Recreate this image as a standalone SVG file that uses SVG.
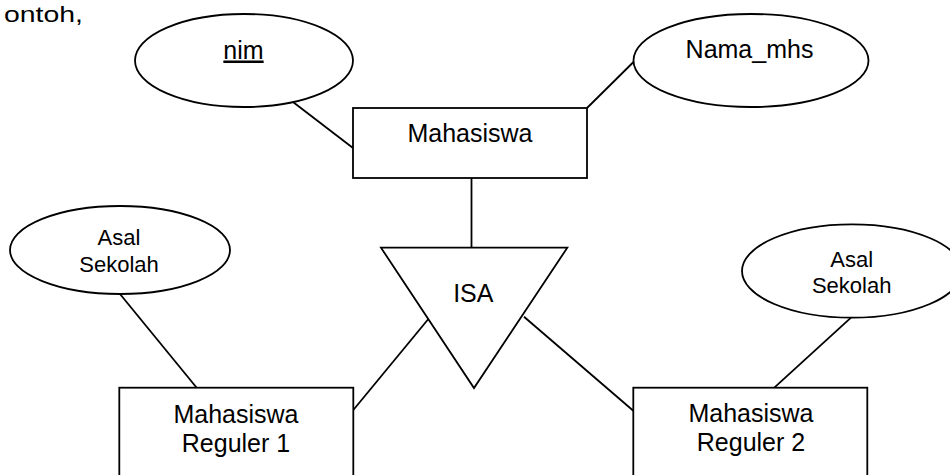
<svg xmlns="http://www.w3.org/2000/svg" width="950" height="475" viewBox="0 0 950 475">
<style>
.s{fill:#fff;stroke:#000;stroke-width:1.8}
.l{stroke:#000;stroke-width:1.8;fill:none}
text{font-family:"Liberation Sans",Arial,sans-serif;fill:#000;text-anchor:middle}
.t25{font-size:25px}
.t22{font-size:22px}
</style>
<rect x="0" y="0" width="950" height="475" fill="#fff"/>
<text x="4" y="22" style="text-anchor:start;font-size:22px" textLength="79" lengthAdjust="spacingAndGlyphs">ontoh,</text>
<g id="connectors">
<line class="l" x1="293" y1="102" x2="353" y2="148"/>
<line class="l" x1="587" y1="108" x2="634" y2="61.5"/>
<line class="l" x1="471.5" y1="178" x2="471.5" y2="247.5"/>
<line class="l" x1="430" y1="317" x2="353.3" y2="410"/>
<line class="l" x1="524" y1="316.7" x2="633.3" y2="410.7"/>
<line class="l" x1="120" y1="294" x2="196.7" y2="387.7"/>
<line class="l" x1="851" y1="317.7" x2="774.3" y2="387.7"/>
</g>
<g id="nim">
<ellipse class="s" cx="244" cy="60.5" rx="109" ry="46.5"/>
<text class="t25" x="243.5" y="58.5" text-decoration="underline">nim</text>
</g>
<g id="nama_mhs">
<ellipse class="s" cx="751" cy="60.5" rx="117.5" ry="46.5"/>
<text class="t25" x="749.5" y="58">Nama_mhs</text>
</g>
<g id="mahasiswa">
<rect class="s" x="353" y="108" width="234" height="70"/>
<text class="t25" x="470" y="142">Mahasiswa</text>
</g>
<g id="isa">
<polygon class="s" points="381,247.7 567.3,247.7 474,388"/>
<text class="t25" x="473.3" y="301.7">ISA</text>
</g>
<g id="asal_sekolah_1">
<ellipse class="s" cx="120" cy="250" rx="110" ry="44"/>
<text class="t22" x="119" y="245">Asal</text>
<text class="t22" x="119" y="272">Sekolah</text>
</g>
<g id="asal_sekolah_2">
<ellipse class="s" cx="852" cy="271" rx="110" ry="46.7"/>
<text class="t22" x="851.7" y="266.7">Asal</text>
<text class="t22" x="851.7" y="293.3">Sekolah</text>
</g>
<g id="reguler1">
<rect class="s" x="119.3" y="387.7" width="234" height="100"/>
<text class="t25" x="236" y="422.5">Mahasiswa</text>
<text class="t25" x="236" y="451.5">Reguler 1</text>
</g>
<g id="reguler2">
<rect class="s" x="633.3" y="387.7" width="234" height="100"/>
<text class="t25" x="751" y="422">Mahasiswa</text>
<text class="t25" x="751" y="451">Reguler 2</text>
</g>
</svg>
